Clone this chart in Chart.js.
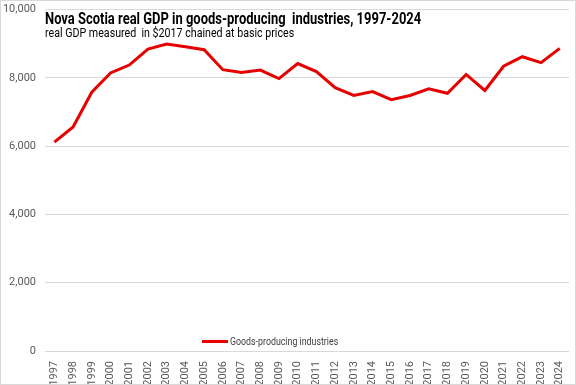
<!DOCTYPE html>
<html>
<head>
<meta charset="utf-8">
<script src="https://cdn.jsdelivr.net/npm/chart.js@4/dist/chart.umd.min.js"></script>
<style>
  body { margin: 0; background: #fff; }
  #wrap { position: relative; width: 576px; height: 385px; box-sizing: border-box; border: 1px solid #d9d9d9; font-family: Roboto, sans-serif; overflow: hidden; }
  #grafico { position: absolute; left: 0; top: -7px; }
  #titre { position: absolute; left: 44px; top: 8px; font-size: 16px; font-weight: bold; color: #000; white-space: pre; transform: scaleX(0.81); transform-origin: left top; }
  #sous { position: absolute; left: 44px; top: 24px; font-size: 13px; color: #000; white-space: pre; transform: scaleX(0.82); transform-origin: left top; }
  #leg { position: absolute; left: 201px; top: 334px; font-size: 10.5px; color: #404040; white-space: pre; display: flex; align-items: center; }
  #leg span.ln { display: inline-block; width: 26px; height: 3px; background: #e60000; margin-right: 2px; }
  #leg span.tx { display: inline-block; transform: scaleX(0.84); transform-origin: left center; }
</style>
</head>
<body>
<div id="wrap">
  <canvas id="grafico" width="574" height="390"></canvas>
  <div id="titre">Nova Scotia real GDP in goods-producing  industries, 1997-2024</div>
  <div id="sous">real GDP measured  in $2017 chained at basic prices</div>
  <div id="leg"><span class="ln"></span><span class="tx">Goods-producing industries</span></div>
</div>
<script>
// anos e valores (millions $2017)
const anos = ['1997','1998','1999','2000','2001','2002','2003','2004','2005','2006','2007','2008','2009','2010',
  '2011','2012','2013','2014','2015','2016','2017','2018','2019','2020','2021','2022','2023','2024'];
const pibBens = [6120, 6560, 7580, 8145, 8375, 8845, 8990, 8910, 8825, 8240, 8155, 8230, 7980, 8420,
  8185, 7715, 7485, 7600, 7360, 7485, 7680, 7550, 8100, 7630, 8340, 8620, 8445, 8865];
const ticksY = [0, 2000, 4000, 6000, 8000, 10000];

const ctx = document.getElementById('grafico').getContext('2d');
const grafico = new Chart(ctx, {
  type: 'line',
  data: {
    labels: anos,
    datasets: [{
      label: 'Goods-producing industries',
      data: pibBens,
      borderColor: '#e60000',
      borderWidth: 3,
      pointRadius: 0,
      tension: 0,
      fill: false
    }]
  },
  options: {
    responsive: false,
    animation: false,
    layout: { padding: { top: 0, right: 3, left: 0, bottom: 0 } },
    plugins: { legend: { display: false }, title: { display: false }, tooltip: { enabled: false } },
    scales: {
      x: {
        offset: true,
        grid: { display: false },
        border: { display: false },
        ticks: { color: '#595959', font: { family: 'Roboto, sans-serif', size: 11 }, minRotation: 90, maxRotation: 90, padding: 2, autoSkip: false },
        afterFit: function (s) { s.height = 33; }
      },
      y: {
        min: 0,
        max: 10000,
        afterBuildTicks: function (s) { s.ticks = ticksY.map(v => ({ value: v })); },
        grid: { color: '#d9d9d9', lineWidth: 1, drawTicks: false },
        border: { display: false },
        ticks: {
          color: '#595959',
          font: { family: 'Roboto, sans-serif', size: 11 },
          padding: 9,
          callback: v => v.toLocaleString('en-US')
        },
        afterFit: function (s) { s.width = 44; }
      }
    }
  }
});
</script>
</body>
</html>
